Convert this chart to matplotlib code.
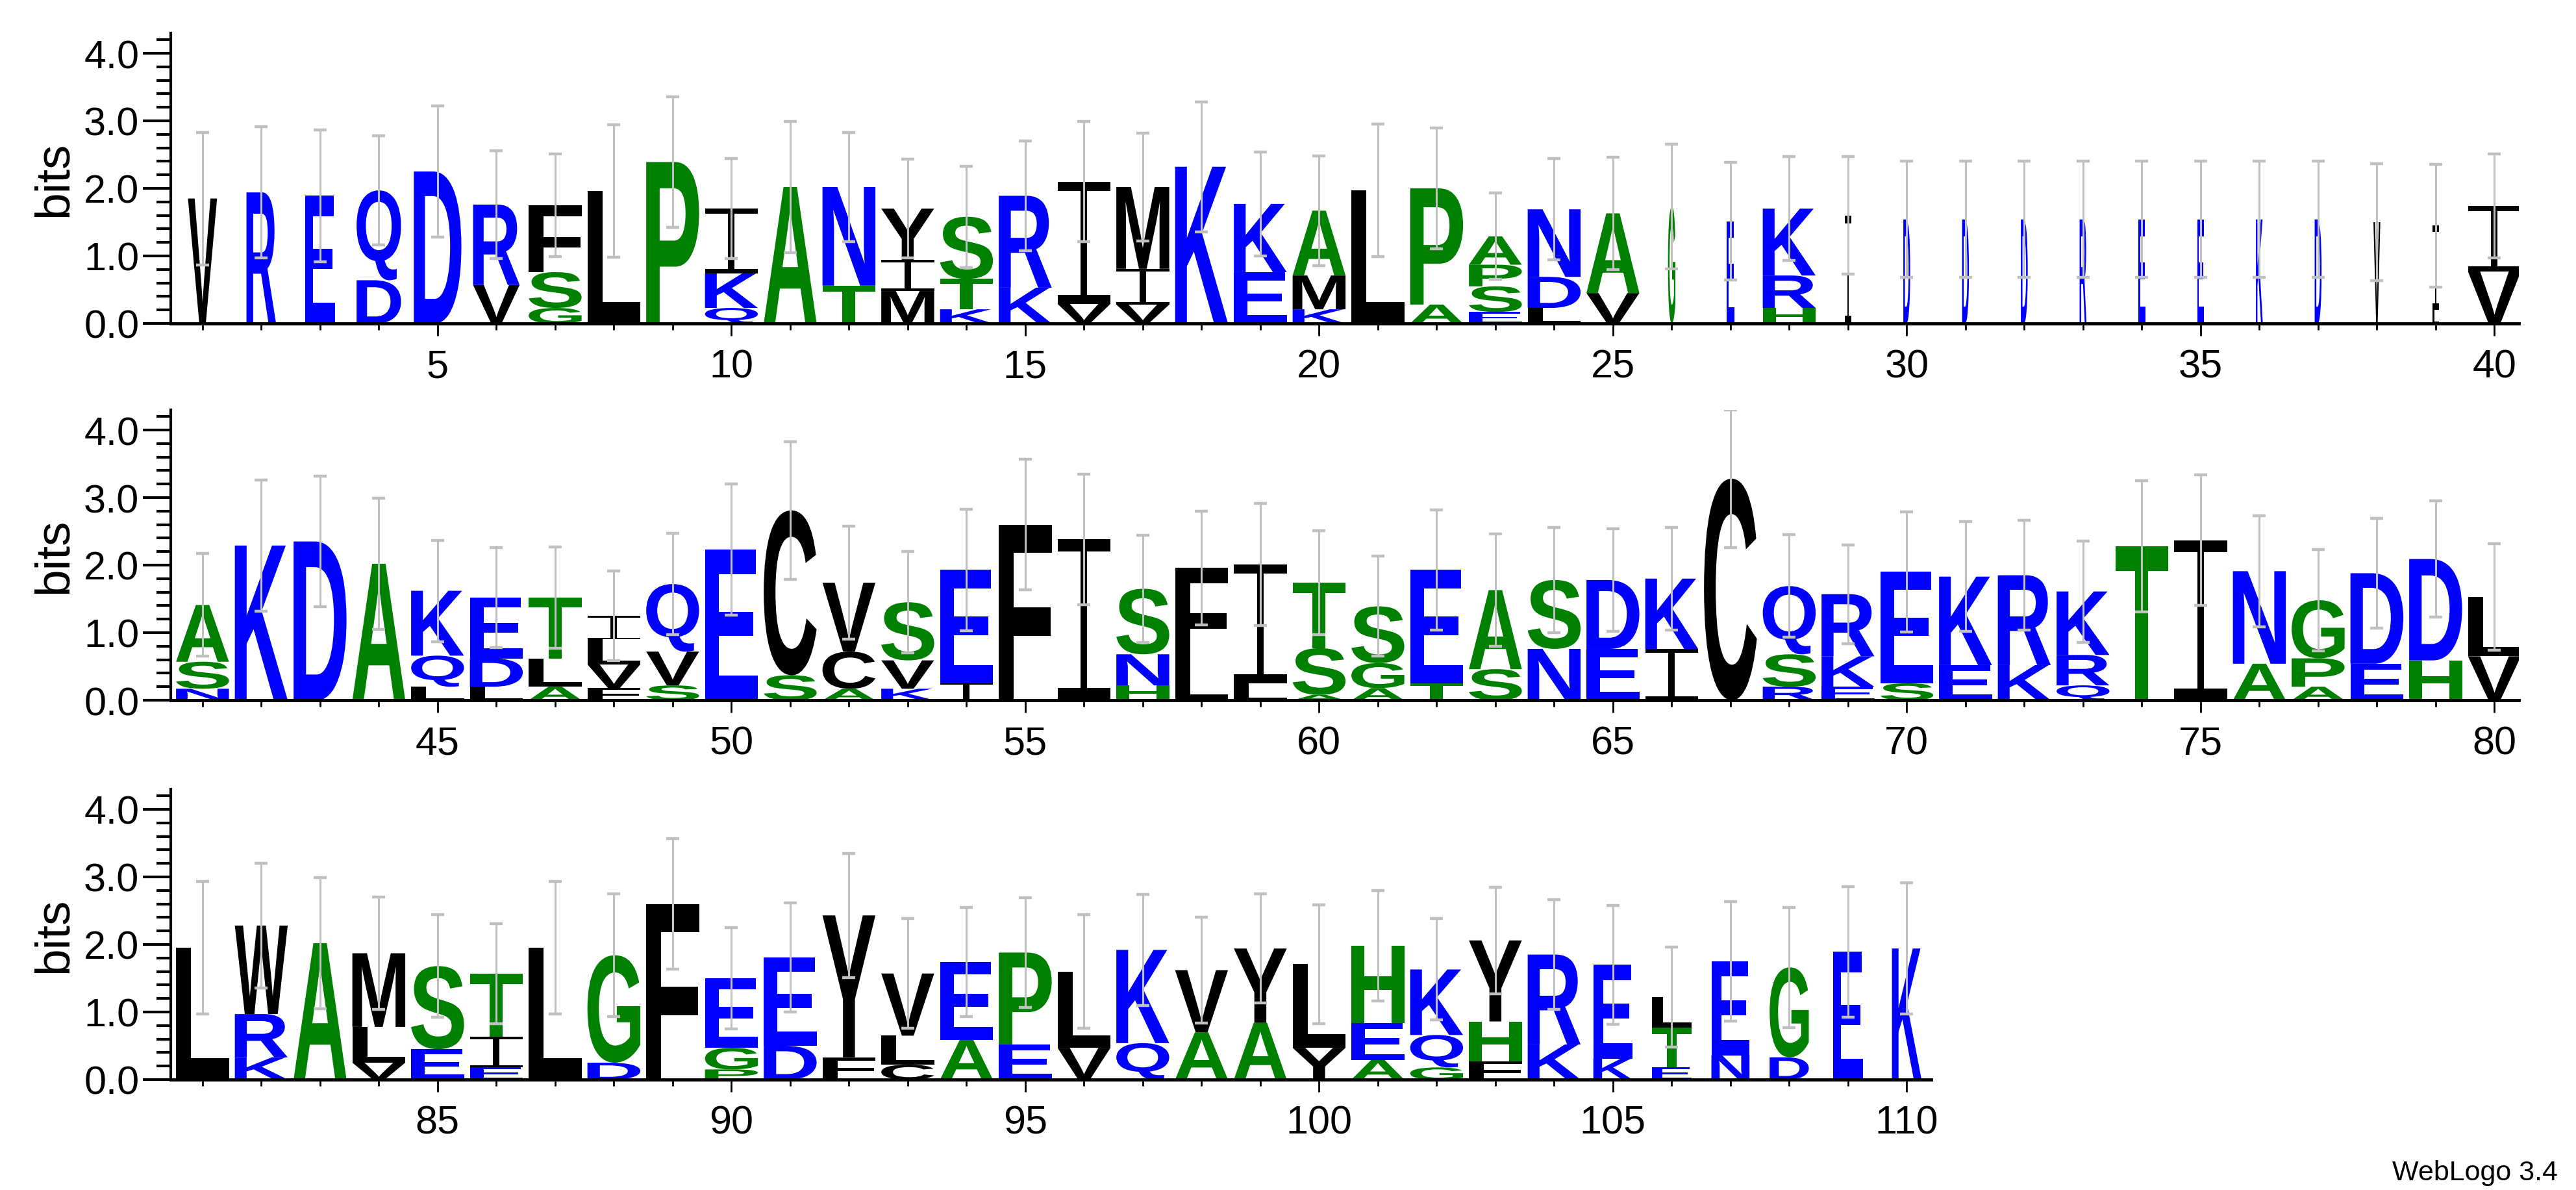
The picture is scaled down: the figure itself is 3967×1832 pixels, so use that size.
import matplotlib
matplotlib.use("Agg")
import matplotlib.pyplot as plt
from matplotlib.textpath import TextPath
from matplotlib.patches import PathPatch
from matplotlib.path import Path
from matplotlib.font_manager import FontProperties
from matplotlib.transforms import Affine2D
from matplotlib.ticker import MultipleLocator, FormatStrFormatter

# ---- data: letters (bottom -> top) and heights in bits per position ----
letters = [
    "V", "R", "E", "DQ", "D", "VR", "GSF", "L", "P", "QKI",
    "A", "TN", "MIY", "KTS", "KR", "VI", "VIM", "K", "EK", "KMA",
    "L", "AP", "ESPA", "LDN", "VA", "G", "E", "HRK", "I", "D",
    "D", "D", "R", "E", "E", "K", "D", "V", "LI", "VI",
    "NSA", "K", "D", "A", "LQK", "LDE", "ALT", "FVLI", "SVQ", "E",
    "SC", "ACV", "KVS", "IE", "F", "I", "HNS", "LF", "LI", "AST",
    "AGS", "TE", "SA", "NS", "ED", "IK", "C", "RSQ", "EKR", "SE",
    "EK", "KR", "QRK", "T", "I", "AN", "APG", "ED", "HD", "VL",
    "L", "KRW", "A", "VLM", "ES", "EIT", "L", "DG", "F", "PGE",
    "DE", "FY", "CLV", "AE", "EP", "VL", "QK", "AV", "AY", "YL",
    "AEH", "GQK", "FHY", "KR", "KE", "ETL", "NE", "DG", "E", "K",
]
heights = [
    [1.85], [1.94], [1.89], [0.64, 1.33], [2.25], [0.57, 1.19], [0.23, 0.53, 0.99], [1.96], [2.39], [0.23, 0.51, 0.96],
    [2.02], [0.56, 1.46], [0.48, 0.46, 0.76], [0.21, 0.45, 0.92], [0.53, 1.36], [0.29, 1.81], [0.28, 0.53, 1.21], [2.32], [0.76, 1.01], [0.21, 0.50, 0.96],
    [1.97], [0.28, 1.72], [0.17, 0.38, 0.32, 0.42], [0.23, 0.46, 1.00], [0.45, 1.18], [1.73], [1.51], [0.23, 0.48, 0.99], [1.60], [1.54],
    [1.54], [1.54], [1.54], [1.54], [1.54], [1.54], [1.54], [1.50], [0.20, 1.25], [0.77, 0.97],
    [0.17, 0.40, 0.84], [2.29], [2.35], [2.02], [0.20, 0.46, 0.96], [0.20, 0.42, 0.90], [0.20, 0.42, 0.90], [0.18, 0.35, 0.37, 0.35], [0.22, 0.50, 1.00], [2.23],
    [0.37, 2.44], [0.17, 0.55, 1.02], [0.17, 0.42, 0.86], [0.25, 1.68], [2.60], [2.38], [0.22, 0.46, 0.97], [0.54, 1.42], [0.25, 1.76], [0.08, 0.69, 0.97],
    [0.18, 0.37, 0.84], [0.25, 1.68], [0.46, 1.17], [0.76, 1.02], [0.76, 1.02], [0.76, 1.04], [3.28], [0.20, 0.48, 1.01], [0.20, 0.45, 0.92], [0.25, 1.65],
    [0.52, 1.31], [0.52, 1.33], [0.22, 0.45, 0.94], [2.28], [2.37], [0.54, 1.37], [0.20, 0.42, 0.86], [0.54, 1.34], [0.59, 1.50], [0.65, 0.88],
    [1.95], [0.33, 0.64, 1.31], [2.02], [0.25, 0.53, 1.09], [0.45, 1.23], [0.18, 0.45, 0.94], [1.95], [0.25, 1.59], [2.60], [0.15, 0.32, 1.03],
    [0.50, 1.31], [0.33, 2.10], [0.22, 0.43, 0.92], [0.59, 1.15], [0.52, 1.36], [0.47, 1.13], [0.54, 1.38], [0.70, 0.92], [0.84, 1.10], [0.47, 1.24],
    [0.29, 0.55, 1.14], [0.18, 0.48, 0.97], [0.27, 0.59, 1.20], [0.52, 1.33], [0.31, 1.39], [0.18, 0.59, 0.45], [0.36, 1.39], [0.33, 1.33], [1.89], [1.94],
]
errors = [
    0.98, 0.97, 0.98, 0.81, 0.97, 0.80, 0.76, 0.98, 0.97, 0.74,
    0.97, 0.81, 0.73, 0.75, 0.81, 0.89, 0.80, 0.96, 0.77, 0.81,
    0.98, 0.89, 0.64, 0.75, 0.83, 0.92, 0.87, 0.77, 0.87, 0.86,
    0.86, 0.86, 0.86, 0.86, 0.86, 0.86, 0.86, 0.87, 0.91, 0.77,
    0.76, 0.97, 0.97, 0.97, 0.75, 0.74, 0.75, 0.66, 0.75, 0.97,
    1.02, 0.84, 0.75, 0.90, 0.97, 0.97, 0.79, 0.84, 0.90, 0.77,
    0.74, 0.89, 0.83, 0.78, 0.76, 0.76, 1.02, 0.76, 0.73, 0.89,
    0.81, 0.81, 0.75, 0.97, 0.97, 0.82, 0.75, 0.81, 0.86, 0.79,
    0.98, 0.92, 0.97, 0.83, 0.76, 0.74, 0.98, 0.91, 0.97, 0.75,
    0.81, 0.92, 0.81, 0.81, 0.81, 0.84, 0.82, 0.78, 0.81, 0.88,
    0.82, 0.75, 0.79, 0.81, 0.88, 0.74, 0.88, 0.89, 0.97, 0.97,
]
# relative stack width (occupancy)
occupancy = [1.0] * 110
for i, v in {1: 0.55, 2: 0.56, 3: 0.56, 4: 0.84, 5: 0.9, 6: 0.88,
             26: 0.14, 27: 0.14, 29: 0.13, 30: 0.13, 31: 0.13, 32: 0.13,
             33: 0.13, 34: 0.13, 35: 0.13, 36: 0.13, 37: 0.13, 38: 0.13, 39: 0.13,
             105: 0.74, 106: 0.74, 107: 0.72, 108: 0.74, 109: 0.57, 110: 0.56}.items():
    occupancy[i - 1] = v

rows = [(1, 40), (41, 80), (81, 110)]

BLUE, GREEN, BLACK = "#0000ff", "#008000", "#000000"
color_of = {}
for c in "REQDKN":
    color_of[c] = BLUE
for c in "SGATPH":
    color_of[c] = GREEN
for c in "VFLIMYWC":
    color_of[c] = BLACK

fp = FontProperties(family="Liberation Sans", weight="bold")

# serif-style capital I glyph (unit box)
bt, sw = 0.075, 0.06
I_PATH = Path([
    (0, 0), (1, 0), (1, bt), (0.5 + sw, bt), (0.5 + sw, 1 - bt), (1, 1 - bt),
    (1, 1), (0, 1), (0, 1 - bt), (0.5 - sw, 1 - bt), (0.5 - sw, bt), (0, bt), (0, 0)],
    closed=True)

W, H = 3967, 1833
fig = plt.figure(figsize=(W / 100, H / 100), dpi=100)
plt.rcParams["font.family"] = ["Liberation Sans", "DejaVu Sans"]

px_pos = 90.5
px_bit = 104
baselines = [499, 1079, 1663]
ymax = 4.3

for r, (s, e) in enumerate(rows):
    x0, x1 = s - 0.54, e + 0.42
    left = 263 / W
    width = (x1 - x0) * px_pos / W
    bottom = (H - baselines[r]) / H
    height = ymax * px_bit / H
    ax = fig.add_axes([left, bottom, width, height])
    ax.set_xlim(x0, x1)
    ax.set_ylim(0, ymax)
    for p in range(s, e + 1):
        i = p - 1
        w = 0.9 * occupancy[i]
        y = 0.0
        for ch, h in zip(letters[i], heights[i]):
            if ch == "I":
                tp = I_PATH
            else:
                tp = TextPath((0, 0), ch, size=1, prop=fp)
            bb = tp.get_extents()
            tr = (Affine2D().translate(-bb.x0, -bb.y0)
                  .scale(w / bb.width, h / bb.height)
                  .translate(p - w / 2, y)) + ax.transData
            ax.add_patch(PathPatch(tp, transform=tr, facecolor=color_of[ch],
                                   edgecolor="none", lw=0))
            y += h
        err = errors[i]
        ax.plot([p, p], [y - err, y + err], color="#c0c0c0", lw=2.2, zorder=5,
                solid_capstyle="butt")
        ax.plot([p, p], [y - err, y + err], ls="none", marker="_", ms=14,
                mew=3.2, color="#c0c0c0", zorder=5)
    for sp in ("top", "right"):
        ax.spines[sp].set_visible(False)
    ax.spines["left"].set_linewidth(3)
    ax.spines["bottom"].set_linewidth(3.5)
    ax.xaxis.set_major_locator(MultipleLocator(5))
    ax.xaxis.set_minor_locator(MultipleLocator(1))
    ax.yaxis.set_major_locator(MultipleLocator(1))
    ax.yaxis.set_minor_locator(MultipleLocator(0.2))
    ax.yaxis.set_major_formatter(FormatStrFormatter("%.1f"))
    ax.tick_params(axis="x", which="major", length=14, width=2, labelsize=44, pad=14)
    ax.tick_params(axis="x", which="minor", length=7, width=2)
    ax.tick_params(axis="y", which="major", length=31, width=3, labelsize=44, pad=4)
    ax.tick_params(axis="y", which="minor", length=16, width=3)
    ax.set_ylabel("bits", fontsize=54, labelpad=8)

fig.text(0.993, 0.004, "WebLogo 3.4", ha="right", va="bottom", fontsize=31)
fig.savefig("out.png", dpi=100)
